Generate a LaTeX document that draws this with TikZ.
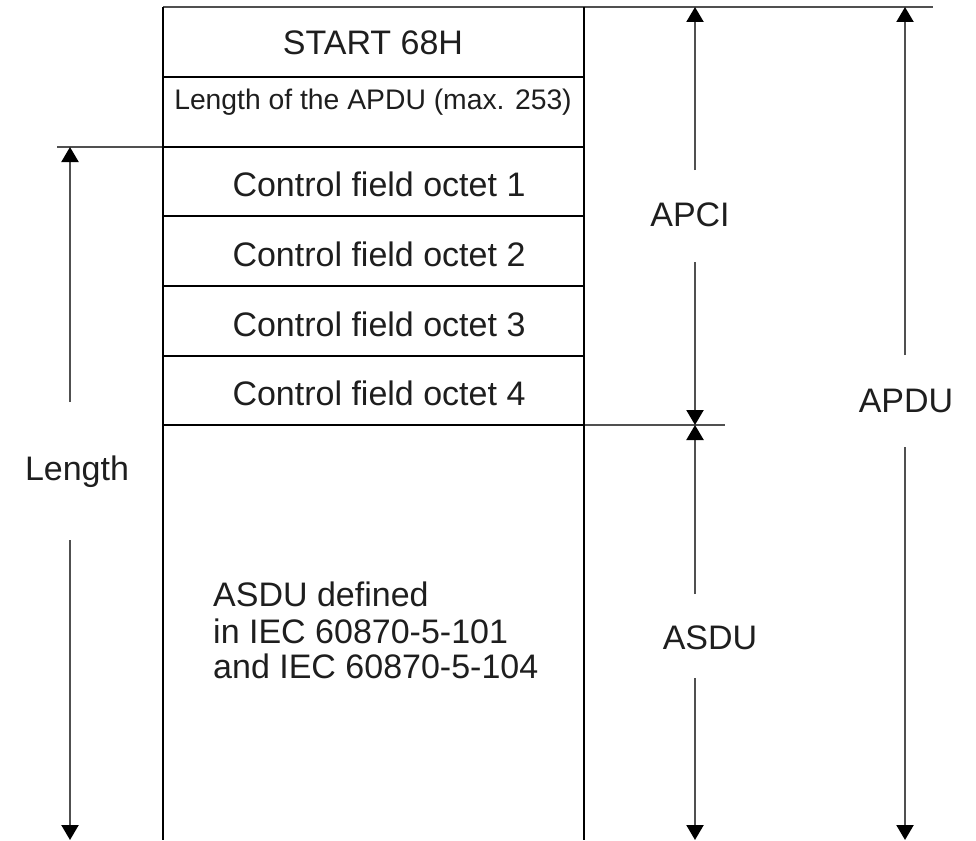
\documentclass[tikz,border=0pt]{standalone}
\usepackage{fontspec}
\setmainfont{Liberation Sans}
\usetikzlibrary{arrows.meta}
\definecolor{linegray}{HTML}{505050}
\definecolor{txt}{HTML}{1E1E1E}
\tikzset{
  boxline/.style={draw=black, line width=2.2pt},
  extline/.style={draw=linegray, line width=2.2pt},
  dimline/.style={draw=linegray, line width=2.2pt},
  tipend/.style={-{Triangle[length=15pt,width=17pt,color=black,fill=black]}},
  lbl/.style={anchor=base, inner sep=0pt, text=txt, font=\fontsize{34}{38}\selectfont},
  smalllbl/.style={anchor=base, inner sep=0pt, text=txt, font=\fontsize{28.3}{32}\selectfont},
}
\begin{document}
\begin{tikzpicture}[x=1pt,y=-1pt]
\useasboundingbox (0,0) rectangle (976,840);
% frame coordinates
\coordinate (TL) at (163,7);
\coordinate (TR) at (584,7);
\coordinate (BL) at (163,840);
\coordinate (BR) at (584,840);
\coordinate (topext) at (933,7);
\coordinate (r1L) at (163,77);  \coordinate (r1R) at (584,77);
\coordinate (r2L) at (163,147); \coordinate (r2R) at (584,147);
\coordinate (r2ext) at (57,147);
\coordinate (r3L) at (163,216); \coordinate (r3R) at (584,216);
\coordinate (r4L) at (163,286); \coordinate (r4R) at (584,286);
\coordinate (r5L) at (163,356); \coordinate (r5R) at (584,356);
\coordinate (r6L) at (163,425); \coordinate (r6R) at (584,425);
\coordinate (r6ext) at (725,425);
% extension lines
\draw[extline] (TL) -- (topext);
\draw[extline] (r2ext) -- (r2L);
\draw[extline] (r6R) -- (r6ext);
% box
\draw[boxline] (TL) -- (BL);
\draw[boxline] (TR) -- (BR);
\draw[boxline] (r1L) -- (r1R);
\draw[boxline] (r2L) -- (r2R);
\draw[boxline] (r3L) -- (r3R);
\draw[boxline] (r4L) -- (r4R);
\draw[boxline] (r5L) -- (r5R);
\draw[boxline] (r6L) -- (r6R);
% cell texts
\node[lbl] (start) at (373,55) {START 68H};
\node[smalllbl] (len) at (373,110) {Length of the APDU (max. 253)};
\node[lbl] (c1) at (379,196) {Control field octet 1};
\node[lbl] (c2) at (379,266) {Control field octet 2};
\node[lbl] (c3) at (379,336) {Control field octet 3};
\node[lbl] (c4) at (379,405) {Control field octet 4};
\node[lbl, anchor=base west] (asdu1) at (213,606) {ASDU defined};
\node[lbl, anchor=base west] (asdu2) at (213,643) {in IEC 60870-5-101};
\node[lbl, anchor=base west] (asdu3) at (213,678) {and IEC 60870-5-104};
% dimension labels
\node[lbl] (lenlab) at (77,480) {Length};
\node[lbl] (apcilab) at (690,226) {APCI};
\node[lbl] (asdulab) at (710,649) {ASDU};
\node[lbl] (apdulab) at (906,412) {APDU};
% dimension arrows
\coordinate (lenT) at (70,147);  \coordinate (lenA) at (70,402);
\coordinate (lenB) at (70,540);  \coordinate (lenE) at (70,840);
\draw[dimline,tipend] (lenA) -- (lenT);
\draw[dimline,tipend] (lenB) -- (lenE);
\coordinate (apciT) at (695,7);  \coordinate (apciA) at (695,170);
\coordinate (apciB) at (695,262); \coordinate (apciE) at (695,425);
\draw[dimline,tipend] (apciA) -- (apciT);
\draw[dimline,tipend] (apciB) -- (apciE);
\coordinate (asduT) at (695,425); \coordinate (asduA) at (695,594);
\coordinate (asduB) at (695,678); \coordinate (asduE) at (695,840);
\draw[dimline,tipend] (asduA) -- (asduT);
\draw[dimline,tipend] (asduB) -- (asduE);
\coordinate (apduT) at (905,7);  \coordinate (apduA) at (905,355);
\coordinate (apduB) at (905,447); \coordinate (apduE) at (905,840);
\draw[dimline,tipend] (apduA) -- (apduT);
\draw[dimline,tipend] (apduB) -- (apduE);
\end{tikzpicture}
\end{document}
